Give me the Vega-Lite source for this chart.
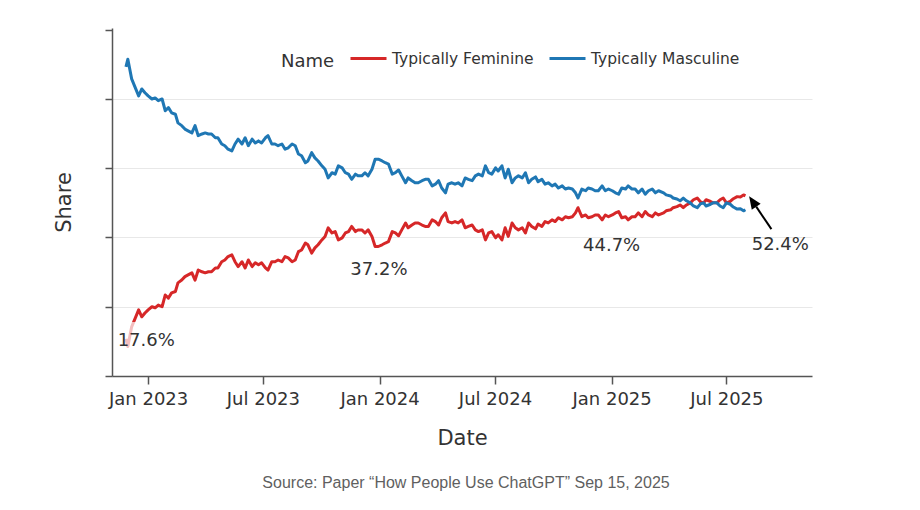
{
  "$schema": "https://vega.github.io/schema/vega-lite/v6.json",
  "width": 700,
  "height": 348,
  "autosize": {"type": "none"},
  "padding": {"left": 112, "top": 28, "right": 108, "bottom": 134},
  "background": "white",
  "config": {"view": {"stroke": null}, "font": "DejaVu Sans"},
  "title": {
    "text": "Source: Paper “How People Use ChatGPT” Sep 15, 2025",
    "orient": "bottom",
    "anchor": "middle",
    "font": "Liberation Sans",
    "fontSize": 16,
    "fontWeight": "normal",
    "color": "#5f5f5f",
    "offset": 27,
    "dx": 4
  },
  "datasets": {
    "series": [
      {"d": "2022-11-27", "Typically Feminine": 10.7, "Typically Masculine": 89.3},
      {"d": "2022-11-30", "Typically Feminine": 8.5, "Typically Masculine": 91.5},
      {"d": "2022-12-06", "Typically Feminine": 14.2, "Typically Masculine": 85.8},
      {"d": "2022-12-17", "Typically Feminine": 19.1, "Typically Masculine": 80.9},
      {"d": "2022-12-22", "Typically Feminine": 17.1, "Typically Masculine": 82.9},
      {"d": "2022-12-27", "Typically Feminine": 18.2, "Typically Masculine": 81.8},
      {"d": "2023-01-01", "Typically Feminine": 19.1, "Typically Masculine": 80.9},
      {"d": "2023-01-07", "Typically Feminine": 20.0, "Typically Masculine": 80.0},
      {"d": "2023-01-12", "Typically Feminine": 19.7, "Typically Masculine": 80.3},
      {"d": "2023-01-17", "Typically Feminine": 20.5, "Typically Masculine": 79.5},
      {"d": "2023-01-23", "Typically Feminine": 20.0, "Typically Masculine": 80.0},
      {"d": "2023-01-28", "Typically Feminine": 23.4, "Typically Masculine": 76.6},
      {"d": "2023-02-02", "Typically Feminine": 22.5, "Typically Masculine": 77.5},
      {"d": "2023-02-07", "Typically Feminine": 24.0, "Typically Masculine": 76.0},
      {"d": "2023-02-13", "Typically Feminine": 24.4, "Typically Masculine": 75.6},
      {"d": "2023-02-17", "Typically Feminine": 26.9, "Typically Masculine": 73.1},
      {"d": "2023-02-23", "Typically Feminine": 27.7, "Typically Masculine": 72.3},
      {"d": "2023-02-28", "Typically Feminine": 28.7, "Typically Masculine": 71.3},
      {"d": "2023-03-05", "Typically Feminine": 29.2, "Typically Masculine": 70.8},
      {"d": "2023-03-11", "Typically Feminine": 29.8, "Typically Masculine": 70.2},
      {"d": "2023-03-16", "Typically Feminine": 27.7, "Typically Masculine": 72.3},
      {"d": "2023-03-21", "Typically Feminine": 30.6, "Typically Masculine": 69.4},
      {"d": "2023-03-27", "Typically Feminine": 30.1, "Typically Masculine": 69.9},
      {"d": "2023-04-01", "Typically Feminine": 29.8, "Typically Masculine": 70.2},
      {"d": "2023-04-06", "Typically Feminine": 30.1, "Typically Masculine": 69.9},
      {"d": "2023-04-11", "Typically Feminine": 30.1, "Typically Masculine": 69.9},
      {"d": "2023-04-17", "Typically Feminine": 31.2, "Typically Masculine": 68.8},
      {"d": "2023-04-21", "Typically Feminine": 31.2, "Typically Masculine": 68.8},
      {"d": "2023-04-27", "Typically Feminine": 33.0, "Typically Masculine": 67.0},
      {"d": "2023-05-02", "Typically Feminine": 33.5, "Typically Masculine": 66.5},
      {"d": "2023-05-07", "Typically Feminine": 34.5, "Typically Masculine": 65.5},
      {"d": "2023-05-13", "Typically Feminine": 35.0, "Typically Masculine": 65.0},
      {"d": "2023-05-18", "Typically Feminine": 33.0, "Typically Masculine": 67.0},
      {"d": "2023-05-23", "Typically Feminine": 31.6, "Typically Masculine": 68.4},
      {"d": "2023-05-29", "Typically Feminine": 33.0, "Typically Masculine": 67.0},
      {"d": "2023-06-03", "Typically Feminine": 31.2, "Typically Masculine": 68.8},
      {"d": "2023-06-08", "Typically Feminine": 33.5, "Typically Masculine": 66.5},
      {"d": "2023-06-14", "Typically Feminine": 31.6, "Typically Masculine": 68.4},
      {"d": "2023-06-19", "Typically Feminine": 32.7, "Typically Masculine": 67.3},
      {"d": "2023-06-24", "Typically Feminine": 32.1, "Typically Masculine": 67.9},
      {"d": "2023-06-29", "Typically Feminine": 32.7, "Typically Masculine": 67.3},
      {"d": "2023-07-05", "Typically Feminine": 31.2, "Typically Masculine": 68.8},
      {"d": "2023-07-09", "Typically Feminine": 30.6, "Typically Masculine": 69.4},
      {"d": "2023-07-15", "Typically Feminine": 33.0, "Typically Masculine": 67.0},
      {"d": "2023-07-20", "Typically Feminine": 33.0, "Typically Masculine": 67.0},
      {"d": "2023-07-25", "Typically Feminine": 33.5, "Typically Masculine": 66.5},
      {"d": "2023-07-31", "Typically Feminine": 33.0, "Typically Masculine": 67.0},
      {"d": "2023-08-05", "Typically Feminine": 34.5, "Typically Masculine": 65.5},
      {"d": "2023-08-10", "Typically Feminine": 34.1, "Typically Masculine": 65.9},
      {"d": "2023-08-16", "Typically Feminine": 33.0, "Typically Masculine": 67.0},
      {"d": "2023-08-21", "Typically Feminine": 33.5, "Typically Masculine": 66.5},
      {"d": "2023-08-26", "Typically Feminine": 35.9, "Typically Masculine": 64.1},
      {"d": "2023-08-31", "Typically Feminine": 36.4, "Typically Masculine": 63.6},
      {"d": "2023-09-06", "Typically Feminine": 38.4, "Typically Masculine": 61.6},
      {"d": "2023-09-10", "Typically Feminine": 37.9, "Typically Masculine": 62.1},
      {"d": "2023-09-16", "Typically Feminine": 35.5, "Typically Masculine": 64.5},
      {"d": "2023-09-21", "Typically Feminine": 37.0, "Typically Masculine": 63.0},
      {"d": "2023-09-26", "Typically Feminine": 37.9, "Typically Masculine": 62.1},
      {"d": "2023-10-02", "Typically Feminine": 39.3, "Typically Masculine": 60.7},
      {"d": "2023-10-07", "Typically Feminine": 40.3, "Typically Masculine": 59.7},
      {"d": "2023-10-12", "Typically Feminine": 42.8, "Typically Masculine": 57.2},
      {"d": "2023-10-18", "Typically Feminine": 41.3, "Typically Masculine": 58.7},
      {"d": "2023-10-23", "Typically Feminine": 41.7, "Typically Masculine": 58.3},
      {"d": "2023-10-28", "Typically Feminine": 39.3, "Typically Masculine": 60.7},
      {"d": "2023-11-03", "Typically Feminine": 39.9, "Typically Masculine": 60.1},
      {"d": "2023-11-08", "Typically Feminine": 41.3, "Typically Masculine": 58.7},
      {"d": "2023-11-13", "Typically Feminine": 41.7, "Typically Masculine": 58.3},
      {"d": "2023-11-18", "Typically Feminine": 43.2, "Typically Masculine": 56.8},
      {"d": "2023-11-24", "Typically Feminine": 41.7, "Typically Masculine": 58.3},
      {"d": "2023-11-28", "Typically Feminine": 42.2, "Typically Masculine": 57.8},
      {"d": "2023-12-04", "Typically Feminine": 42.2, "Typically Masculine": 57.8},
      {"d": "2023-12-09", "Typically Feminine": 41.3, "Typically Masculine": 58.7},
      {"d": "2023-12-14", "Typically Feminine": 42.2, "Typically Masculine": 57.8},
      {"d": "2023-12-20", "Typically Feminine": 40.3, "Typically Masculine": 59.7},
      {"d": "2023-12-25", "Typically Feminine": 37.4, "Typically Masculine": 62.6},
      {"d": "2023-12-30", "Typically Feminine": 37.4, "Typically Masculine": 62.6},
      {"d": "2024-01-05", "Typically Feminine": 37.9, "Typically Masculine": 62.1},
      {"d": "2024-01-10", "Typically Feminine": 38.4, "Typically Masculine": 61.6},
      {"d": "2024-01-15", "Typically Feminine": 38.8, "Typically Masculine": 61.2},
      {"d": "2024-01-21", "Typically Feminine": 41.7, "Typically Masculine": 58.3},
      {"d": "2024-01-26", "Typically Feminine": 41.3, "Typically Masculine": 58.7},
      {"d": "2024-01-31", "Typically Feminine": 40.5, "Typically Masculine": 59.5},
      {"d": "2024-02-05", "Typically Feminine": 42.2, "Typically Masculine": 57.8},
      {"d": "2024-02-11", "Typically Feminine": 44.2, "Typically Masculine": 55.8},
      {"d": "2024-02-15", "Typically Feminine": 42.8, "Typically Masculine": 57.2},
      {"d": "2024-02-21", "Typically Feminine": 43.6, "Typically Masculine": 56.4},
      {"d": "2024-02-26", "Typically Feminine": 44.2, "Typically Masculine": 55.8},
      {"d": "2024-03-02", "Typically Feminine": 44.2, "Typically Masculine": 55.8},
      {"d": "2024-03-08", "Typically Feminine": 43.6, "Typically Masculine": 56.4},
      {"d": "2024-03-13", "Typically Feminine": 43.2, "Typically Masculine": 56.8},
      {"d": "2024-03-18", "Typically Feminine": 43.2, "Typically Masculine": 56.8},
      {"d": "2024-03-24", "Typically Feminine": 45.1, "Typically Masculine": 54.9},
      {"d": "2024-03-29", "Typically Feminine": 44.6, "Typically Masculine": 55.4},
      {"d": "2024-04-03", "Typically Feminine": 43.6, "Typically Masculine": 56.4},
      {"d": "2024-04-08", "Typically Feminine": 45.7, "Typically Masculine": 54.3},
      {"d": "2024-04-14", "Typically Feminine": 47.1, "Typically Masculine": 52.9},
      {"d": "2024-04-18", "Typically Feminine": 44.6, "Typically Masculine": 55.4},
      {"d": "2024-04-24", "Typically Feminine": 44.2, "Typically Masculine": 55.8},
      {"d": "2024-04-29", "Typically Feminine": 44.6, "Typically Masculine": 55.4},
      {"d": "2024-05-04", "Typically Feminine": 44.2, "Typically Masculine": 55.8},
      {"d": "2024-05-10", "Typically Feminine": 45.1, "Typically Masculine": 54.9},
      {"d": "2024-05-15", "Typically Feminine": 42.8, "Typically Masculine": 57.2},
      {"d": "2024-05-20", "Typically Feminine": 43.2, "Typically Masculine": 56.8},
      {"d": "2024-05-26", "Typically Feminine": 43.6, "Typically Masculine": 56.4},
      {"d": "2024-05-31", "Typically Feminine": 42.2, "Typically Masculine": 57.8},
      {"d": "2024-06-05", "Typically Feminine": 41.7, "Typically Masculine": 58.3},
      {"d": "2024-06-11", "Typically Feminine": 42.2, "Typically Masculine": 57.8},
      {"d": "2024-06-16", "Typically Feminine": 39.3, "Typically Masculine": 60.7},
      {"d": "2024-06-21", "Typically Feminine": 41.3, "Typically Masculine": 58.7},
      {"d": "2024-06-26", "Typically Feminine": 41.7, "Typically Masculine": 58.3},
      {"d": "2024-07-02", "Typically Feminine": 39.9, "Typically Masculine": 60.1},
      {"d": "2024-07-06", "Typically Feminine": 40.8, "Typically Masculine": 59.2},
      {"d": "2024-07-12", "Typically Feminine": 39.3, "Typically Masculine": 60.7},
      {"d": "2024-07-17", "Typically Feminine": 42.8, "Typically Masculine": 57.2},
      {"d": "2024-07-22", "Typically Feminine": 40.3, "Typically Masculine": 59.7},
      {"d": "2024-07-28", "Typically Feminine": 44.2, "Typically Masculine": 55.8},
      {"d": "2024-08-02", "Typically Feminine": 42.8, "Typically Masculine": 57.2},
      {"d": "2024-08-07", "Typically Feminine": 42.2, "Typically Masculine": 57.8},
      {"d": "2024-08-13", "Typically Feminine": 42.8, "Typically Masculine": 57.2},
      {"d": "2024-08-18", "Typically Feminine": 41.3, "Typically Masculine": 58.7},
      {"d": "2024-08-23", "Typically Feminine": 44.2, "Typically Masculine": 55.8},
      {"d": "2024-08-28", "Typically Feminine": 43.2, "Typically Masculine": 56.8},
      {"d": "2024-09-03", "Typically Feminine": 42.5, "Typically Masculine": 57.5},
      {"d": "2024-09-07", "Typically Feminine": 43.9, "Typically Masculine": 56.1},
      {"d": "2024-09-13", "Typically Feminine": 43.2, "Typically Masculine": 56.8},
      {"d": "2024-09-18", "Typically Feminine": 44.6, "Typically Masculine": 55.4},
      {"d": "2024-09-23", "Typically Feminine": 44.2, "Typically Masculine": 55.8},
      {"d": "2024-09-29", "Typically Feminine": 45.1, "Typically Masculine": 54.9},
      {"d": "2024-10-04", "Typically Feminine": 44.6, "Typically Masculine": 55.4},
      {"d": "2024-10-09", "Typically Feminine": 45.7, "Typically Masculine": 54.3},
      {"d": "2024-10-15", "Typically Feminine": 45.1, "Typically Masculine": 54.9},
      {"d": "2024-10-20", "Typically Feminine": 46.0, "Typically Masculine": 54.0},
      {"d": "2024-10-25", "Typically Feminine": 45.7, "Typically Masculine": 54.3},
      {"d": "2024-10-31", "Typically Feminine": 46.0, "Typically Masculine": 54.0},
      {"d": "2024-11-05", "Typically Feminine": 47.1, "Typically Masculine": 52.9},
      {"d": "2024-11-09", "Typically Feminine": 48.6, "Typically Masculine": 51.4},
      {"d": "2024-11-15", "Typically Feminine": 46.0, "Typically Masculine": 54.0},
      {"d": "2024-11-21", "Typically Feminine": 46.5, "Typically Masculine": 53.5},
      {"d": "2024-11-25", "Typically Feminine": 45.7, "Typically Masculine": 54.3},
      {"d": "2024-12-01", "Typically Feminine": 46.0, "Typically Masculine": 54.0},
      {"d": "2024-12-06", "Typically Feminine": 46.5, "Typically Masculine": 53.5},
      {"d": "2024-12-11", "Typically Feminine": 46.5, "Typically Masculine": 53.5},
      {"d": "2024-12-17", "Typically Feminine": 45.1, "Typically Masculine": 54.9},
      {"d": "2024-12-22", "Typically Feminine": 46.5, "Typically Masculine": 53.5},
      {"d": "2024-12-27", "Typically Feminine": 46.0, "Typically Masculine": 54.0},
      {"d": "2025-01-02", "Typically Feminine": 46.5, "Typically Masculine": 53.5},
      {"d": "2025-01-07", "Typically Feminine": 47.1, "Typically Masculine": 52.9},
      {"d": "2025-01-12", "Typically Feminine": 47.5, "Typically Masculine": 52.5},
      {"d": "2025-01-17", "Typically Feminine": 45.7, "Typically Masculine": 54.3},
      {"d": "2025-01-23", "Typically Feminine": 46.0, "Typically Masculine": 54.0},
      {"d": "2025-01-27", "Typically Feminine": 45.1, "Typically Masculine": 54.9},
      {"d": "2025-02-02", "Typically Feminine": 46.0, "Typically Masculine": 54.0},
      {"d": "2025-02-07", "Typically Feminine": 46.0, "Typically Masculine": 54.0},
      {"d": "2025-02-12", "Typically Feminine": 47.1, "Typically Masculine": 52.9},
      {"d": "2025-02-18", "Typically Feminine": 46.0, "Typically Masculine": 54.0},
      {"d": "2025-02-23", "Typically Feminine": 47.5, "Typically Masculine": 52.5},
      {"d": "2025-02-28", "Typically Feminine": 46.5, "Typically Masculine": 53.5},
      {"d": "2025-03-06", "Typically Feminine": 46.0, "Typically Masculine": 54.0},
      {"d": "2025-03-11", "Typically Feminine": 47.1, "Typically Masculine": 52.9},
      {"d": "2025-03-16", "Typically Feminine": 46.5, "Typically Masculine": 53.5},
      {"d": "2025-03-24", "Typically Feminine": 47.1, "Typically Masculine": 52.9},
      {"d": "2025-03-28", "Typically Feminine": 47.7, "Typically Masculine": 52.3},
      {"d": "2025-04-04", "Typically Feminine": 48.0, "Typically Masculine": 52.0},
      {"d": "2025-04-08", "Typically Feminine": 48.6, "Typically Masculine": 51.4},
      {"d": "2025-04-14", "Typically Feminine": 48.9, "Typically Masculine": 51.1},
      {"d": "2025-04-19", "Typically Feminine": 49.4, "Typically Masculine": 50.6},
      {"d": "2025-04-24", "Typically Feminine": 48.6, "Typically Masculine": 51.4},
      {"d": "2025-04-29", "Typically Feminine": 49.4, "Typically Masculine": 50.6},
      {"d": "2025-05-05", "Typically Feminine": 50.0, "Typically Masculine": 50.0},
      {"d": "2025-05-10", "Typically Feminine": 50.9, "Typically Masculine": 49.1},
      {"d": "2025-05-16", "Typically Feminine": 51.4, "Typically Masculine": 48.6},
      {"d": "2025-05-21", "Typically Feminine": 50.3, "Typically Masculine": 49.7},
      {"d": "2025-05-26", "Typically Feminine": 50.0, "Typically Masculine": 50.0},
      {"d": "2025-05-30", "Typically Feminine": 50.9, "Typically Masculine": 49.1},
      {"d": "2025-06-06", "Typically Feminine": 50.4, "Typically Masculine": 49.6},
      {"d": "2025-06-10", "Typically Feminine": 50.0, "Typically Masculine": 50.0},
      {"d": "2025-06-16", "Typically Feminine": 50.0, "Typically Masculine": 50.0},
      {"d": "2025-06-21", "Typically Feminine": 50.9, "Typically Masculine": 49.1},
      {"d": "2025-06-26", "Typically Feminine": 51.4, "Typically Masculine": 48.6},
      {"d": "2025-07-01", "Typically Feminine": 50.0, "Typically Masculine": 50.0},
      {"d": "2025-07-07", "Typically Feminine": 50.4, "Typically Masculine": 49.6},
      {"d": "2025-07-12", "Typically Feminine": 51.2, "Typically Masculine": 48.8},
      {"d": "2025-07-18", "Typically Feminine": 51.8, "Typically Masculine": 48.2},
      {"d": "2025-07-23", "Typically Feminine": 51.7, "Typically Masculine": 48.3},
      {"d": "2025-07-28", "Typically Feminine": 52.3, "Typically Masculine": 47.7},
      {"d": "2025-07-31", "Typically Feminine": 52.0, "Typically Masculine": 48.0}
    ],
    "labels": [
      {"d": "2022-12-29", "v": 10.1, "label": "17.6%"},
      {"d": "2023-12-31", "v": 30.6, "label": "37.2%"},
      {"d": "2025-01-01", "v": 37.6, "label": "44.7%"},
      {"d": "2025-09-24", "v": 37.9, "label": "52.4%"}
    ],
    "labelBox": [
      {"d": "2022-11-12", "d2": "2023-02-14", "v": 7.5, "v2": 15.6}
    ],
    "arrow": [
      {"d": "2025-09-10", "v": 42.4, "d2": "2025-08-17", "v2": 48.9}
    ]
  },
  "layer": [
    {
      "mark": {"type": "rule", "color": "#d4d4d4", "strokeDash": [5, 4], "strokeWidth": 1},
      "encoding": {"y": {"datum": 50, "type": "quantitative"}}
    },
    {
      "data": {"name": "series"},
      "transform": [
        {"fold": ["Typically Feminine", "Typically Masculine"], "as": ["Name", "v"]}
      ],
      "mark": {"type": "line", "strokeWidth": 3, "strokeJoin": "round"},
      "encoding": {
        "x": {
          "field": "d",
          "type": "temporal",
          "title": "Date",
          "scale": {"domain": [{"year": 2022, "month": 11, "date": 5}, {"year": 2025, "month": 11, "date": 13}]},
          "axis": {
            "values": [
              {"year": 2023, "month": 1, "date": 1},
              {"year": 2023, "month": 7, "date": 1},
              {"year": 2024, "month": 1, "date": 1},
              {"year": 2024, "month": 7, "date": 1},
              {"year": 2025, "month": 1, "date": 1},
              {"year": 2025, "month": 7, "date": 1}
            ],
            "format": "%b %Y",
            "labelFlush": false,
            "labelOverlap": false,
            "labelFontSize": 18,
            "labelColor": "#333",
            "labelPadding": 6,
            "tickSize": 8,
            "tickColor": "#555",
            "tickWidth": 1.5,
            "domainColor": "#555",
            "domainWidth": 1.5,
            "grid": false,
            "titleFontSize": 21,
            "titleFontWeight": "normal",
            "titleColor": "#333",
            "titlePadding": 19
          }
        },
        "y": {
          "field": "v",
          "type": "quantitative",
          "title": "Share",
          "scale": {"domain": [0, 100.5], "nice": false},
          "axis": {
            "values": [0, 20, 40, 60, 80, 100],
            "labels": false,
            "tickSize": 7,
            "tickColor": "#555",
            "tickWidth": 1.5,
            "domainColor": "#555",
            "domainWidth": 1.5,
            "grid": true,
            "gridColor": "#e8e8e8",
            "gridOpacity": {"condition": {"test": "datum.value === 0 || datum.value === 100", "value": 0}, "value": 1},
            "titleFontSize": 21,
            "titleFontWeight": "normal",
            "titleColor": "#333",
            "titlePadding": 30
          }
        },
        "color": {
          "field": "Name",
          "type": "nominal",
          "scale": {"domain": ["Typically Feminine", "Typically Masculine"], "range": ["#d62728", "#1f77b4"]},
          "legend": {
            "title": "Name",
            "orient": "none",
            "legendX": 169,
            "legendY": 11,
            "direction": "horizontal",
            "titleOrient": "left",
            "titleAnchor": "middle",
            "titleBaseline": "top",
            "titleFontSize": 18,
            "titleFontWeight": "normal",
            "titleColor": "#333",
            "titlePadding": 14,
            "labelFontSize": 15.5,
            "labelColor": "#333",
            "symbolType": "stroke",
            "symbolSize": 1296,
            "symbolStrokeWidth": 3,
            "labelOffset": 4,
            "columnPadding": 9,
            "padding": 0
          }
        }
      }
    },
    {
      "data": {"name": "labelBox"},
      "mark": {"type": "rect", "color": "white", "opacity": 0.7},
      "encoding": {
        "x": {"field": "d", "type": "temporal", "title": "Date"},
        "x2": {"field": "d2"},
        "y": {"field": "v", "type": "quantitative", "title": "Share"},
        "y2": {"field": "v2"}
      }
    },
    {
      "data": {"name": "labels"},
      "mark": {"type": "text", "fontSize": 18, "color": "#333", "align": "center", "baseline": "middle"},
      "encoding": {
        "x": {"field": "d", "type": "temporal", "title": "Date"},
        "y": {"field": "v", "type": "quantitative", "title": "Share"},
        "text": {"field": "label"}
      }
    },
    {
      "data": {"name": "arrow"},
      "mark": {"type": "rule", "color": "black", "strokeWidth": 2},
      "encoding": {
        "x": {"field": "d", "type": "temporal", "title": "Date"},
        "x2": {"field": "d2"},
        "y": {"field": "v", "type": "quantitative", "title": "Share"},
        "y2": {"field": "v2"}
      }
    },
    {
      "data": {"name": "arrow"},
      "mark": {"type": "point", "shape": "M0,-1L-0.43,0L0.43,0Z", "filled": true, "color": "black", "opacity": 1, "size": 625, "angle": 325.5},
      "encoding": {
        "x": {"field": "d2", "type": "temporal", "title": "Date"},
        "y": {"field": "v2", "type": "quantitative", "title": "Share"}
      }
    }
  ]
}
